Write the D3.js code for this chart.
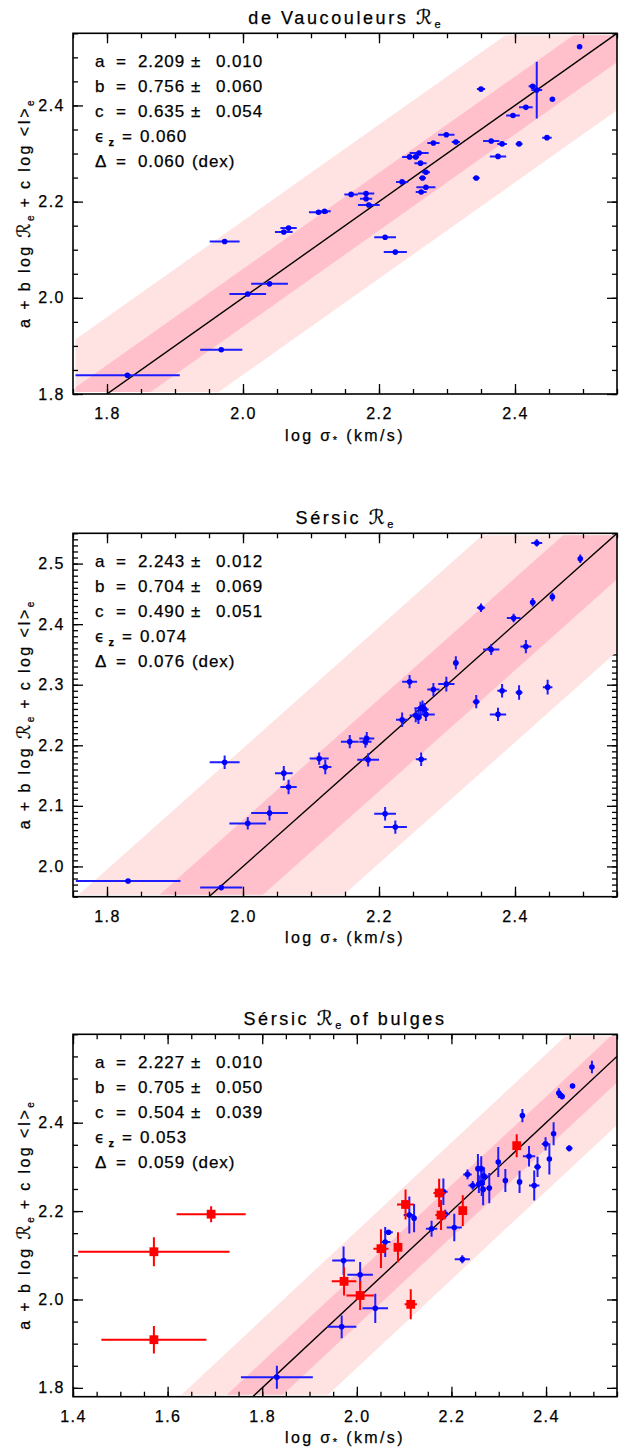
<!DOCTYPE html>
<html>
<head>
<meta charset="utf-8">
<script src="https://cdn.jsdelivr.net/npm/d3@7"></script>
<style>
  body { margin: 0; background: #fff; }
  svg { display: block; }
  text { font-family: "Liberation Sans", Arial, "DejaVu Sans", sans-serif; fill: #000; stroke: #000; stroke-width: 0.25; }
</style>
</head>
<body>
<svg id="fig" width="626" height="1449"></svg>
<script>
// ---------- de Vaucouleurs Re ----------
const dvSigma    = [1.830, 1.968, 1.973, 2.007, 2.039, 2.060, 2.067, 2.111, 2.120, 2.159, 2.181, 2.181, 2.185, 2.209, 2.224, 2.234, 2.245, 2.254, 2.259, 2.261, 2.262, 2.264, 2.269, 2.269, 2.280, 2.299, 2.313, 2.343, 2.350, 2.365, 2.375, 2.381, 2.397, 2.406, 2.416, 2.426, 2.432, 2.447, 2.455, 2.495];
const dvY        = [1.839, 1.892, 2.117, 2.008, 2.029, 2.137, 2.145, 2.178, 2.180, 2.215, 2.217, 2.206, 2.193, 2.126, 2.095, 2.241, 2.293, 2.293, 2.301, 2.280, 2.220, 2.249, 2.261, 2.230, 2.322, 2.339, 2.324, 2.249, 2.434, 2.326, 2.294, 2.320, 2.379, 2.320, 2.396, 2.440, 2.432, 2.333, 2.413, 2.522];
const dvSigmaErr = [0.077, 0.031, 0.022, 0.027, 0.027, 0.013, 0.012, 0.014, 0.009, 0.010, 0.012, 0.009, 0.016, 0.016, 0.017, 0.009, 0.011, 0.005, 0.014, 0.009, 0.008, 0.005, 0.006, 0.014, 0.009, 0.012, 0.006, 0.005, 0.006, 0.012, 0.012, 0.007, 0.010, 0.005, 0.010, 0.006, 0.008, 0.007, 0.003, 0.003];
const dvYErr     = [0.004, 0.004, 0.004, 0.004, 0.004, 0.004, 0.004, 0.004, 0.004, 0.004, 0.004, 0.004, 0.004, 0.004, 0.004, 0.004, 0.004, 0.004, 0.004, 0.004, 0.004, 0.004, 0.004, 0.004, 0.004, 0.004, 0.004, 0.004, 0.004, 0.004, 0.004, 0.004, 0.004, 0.004, 0.004, 0.004, 0.059, 0.004, 0.004, 0.004];

// ---------- Sersic Re ----------
const srSigma    = [1.831, 1.968, 1.973, 2.007, 2.039, 2.060, 2.067, 2.112, 2.121, 2.157, 2.180, 2.182, 2.184, 2.209, 2.224, 2.234, 2.245, 2.254, 2.258, 2.261, 2.262, 2.264, 2.267, 2.269, 2.280, 2.299, 2.313, 2.343, 2.350, 2.365, 2.375, 2.381, 2.398, 2.406, 2.416, 2.426, 2.432, 2.448, 2.455, 2.496];
const srY        = [1.976, 1.965, 2.172, 2.071, 2.088, 2.154, 2.131, 2.178, 2.164, 2.206, 2.206, 2.211, 2.176, 2.087, 2.065, 2.242, 2.305, 2.249, 2.246, 2.261, 2.177, 2.263, 2.259, 2.251, 2.292, 2.301, 2.336, 2.272, 2.427, 2.358, 2.251, 2.290, 2.410, 2.287, 2.363, 2.436, 2.534, 2.296, 2.445, 2.508];
const srSigmaErr = [0.077, 0.031, 0.022, 0.027, 0.027, 0.013, 0.012, 0.014, 0.009, 0.013, 0.009, 0.011, 0.016, 0.016, 0.017, 0.009, 0.011, 0.009, 0.005, 0.009, 0.008, 0.005, 0.006, 0.013, 0.009, 0.012, 0.004, 0.005, 0.006, 0.012, 0.012, 0.007, 0.010, 0.005, 0.008, 0.004, 0.008, 0.007, 0.003, 0.003];
const srYErr     = [0.003, 0.003, 0.011, 0.010, 0.012, 0.012, 0.012, 0.010, 0.012, 0.011, 0.010, 0.011, 0.011, 0.011, 0.011, 0.012, 0.011, 0.011, 0.011, 0.011, 0.011, 0.011, 0.011, 0.011, 0.011, 0.012, 0.011, 0.011, 0.007, 0.009, 0.011, 0.011, 0.007, 0.012, 0.011, 0.007, 0.006, 0.012, 0.007, 0.007];

// ---------- Sersic Re of bulges: galaxies (blue) ----------
const bgSigma    = [1.831, 1.968, 1.972, 2.007, 2.039, 2.060, 2.067, 2.111, 2.121, 2.158, 2.183, 2.187, 2.206, 2.223, 2.234, 2.245, 2.256, 2.258, 2.263, 2.264, 2.267, 2.269, 2.280, 2.299, 2.314, 2.344, 2.350, 2.364, 2.375, 2.382, 2.399, 2.407, 2.416, 2.427, 2.431, 2.434, 2.449, 2.456, 2.497];
const bgY        = [1.824, 1.938, 2.088, 2.056, 1.980, 2.130, 2.152, 2.191, 2.184, 2.160, 2.244, 2.193, 2.163, 2.091, 2.283, 2.258, 2.296, 2.261, 2.296, 2.264, 2.249, 2.279, 2.252, 2.311, 2.269, 2.266, 2.416, 2.324, 2.258, 2.300, 2.352, 2.318, 2.375, 2.467, 2.462, 2.459, 2.342, 2.483, 2.526];
const bgSigmaErr = [0.076, 0.031, 0.024, 0.027, 0.027, 0.011, 0.009, 0.012, 0.004, 0.012, 0.009, 0.009, 0.016, 0.016, 0.009, 0.009, 0.004, 0.006, 0.005, 0.005, 0.005, 0.008, 0.006, 0.004, 0.004, 0.003, 0.005, 0.013, 0.011, 0.007, 0.008, 0.004, 0.004, 0.003, 0.003, 0.003, 0.007, 0.003, 0.002];
const bgYErr     = [0.026, 0.026, 0.032, 0.029, 0.033, 0.034, 0.005, 0.042, 0.032, 0.018, 0.030, 0.010, 0.031, 0.009, 0.011, 0.010, 0.033, 0.020, 0.028, 0.030, 0.036, 0.020, 0.034, 0.034, 0.026, 0.025, 0.015, 0.023, 0.034, 0.023, 0.015, 0.035, 0.026, 0.011, 0.006, 0.005, 0.007, 0.005, 0.014];

// ---------- Sersic Re of bulges: bulges (red squares) ----------
const buSigma    = [1.571, 1.571, 1.692, 1.973, 2.007, 2.051, 2.087, 2.103, 2.114, 2.174, 2.178, 2.224, 2.338];
const buY        = [2.108, 1.909, 2.193, 2.041, 2.009, 2.115, 2.118, 2.215, 1.989, 2.241, 2.191, 2.201, 2.348];
const buSigmaErr = [0.160, 0.111, 0.073, 0.026, 0.029, 0.016, 0.004, 0.018, 0.013, 0.012, 0.012, 0.005, 0.004];
const buYErr     = [0.033, 0.031, 0.018, 0.032, 0.033, 0.044, 0.034, 0.034, 0.034, 0.032, 0.034, 0.035, 0.026];

// ---------- fit results (one entry per panel) ----------
const panelTitles = ["de Vaucouleurs", "Sérsic", "Sérsic"];
const titleSuffix = ["", "", " of bulges"];
const fitA    = [2.209, 2.243, 2.227];
const fitAErr = [0.010, 0.012, 0.010];
const fitB    = [0.756, 0.704, 0.705];
const fitBErr = [0.060, 0.069, 0.050];
const fitC    = [0.635, 0.490, 0.504];
const fitCErr = [0.054, 0.051, 0.039];
const epsZ    = [0.060, 0.074, 0.053];
const scatter = [0.060, 0.076, 0.059];
const bandInner = [0.060, 0.076, 0.059];
const bandOuter = [0.160, 0.195, 0.155];

// ---------- axes ----------
const xRanges = [[1.75, 2.55], [1.75, 2.55], [1.40, 2.55]];
const yRanges = [[1.80, 2.55], [1.95, 2.55], [1.78, 2.60]];
const xTickValues = [[1.8, 2.0, 2.2, 2.4], [1.8, 2.0, 2.2, 2.4], [1.4, 1.6, 1.8, 2.0, 2.2, 2.4]];
const xTickLabels = [["1.8", "2.0", "2.2", "2.4"], ["1.8", "2.0", "2.2", "2.4"], ["1.4", "1.6", "1.8", "2.0", "2.2", "2.4"]];
const yTickValues = [[1.8, 2.0, 2.2, 2.4], [2.0, 2.1, 2.2, 2.3, 2.4, 2.5], [1.8, 2.0, 2.2, 2.4]];
const yTickLabels = [["1.8", "2.0", "2.2", "2.4"], ["2.0", "2.1", "2.2", "2.3", "2.4", "2.5"], ["1.8", "2.0", "2.2", "2.4"]];
const xMinorStep = [0.05, 0.05, 0.05];
const yMinorStep = [0.05, 0.01, 0.05];

// ---------- layout ----------
const svg = d3.select("#fig");
const plotLeft = 73, plotRight = 617;
const frames = [{ top: 33.3, bottom: 394 }, { top: 533.3, bottom: 896.7 }, { top: 1034.3, bottom: 1396.7 }];
const BLUE = "#0000ff", BLUE_BAR = "#1c1cff", RED = "#ff0000";
const FONT = '"Liberation Sans", Arial, "DejaVu Sans", sans-serif';
const SCRIPT_FONT = '"DejaVu Serif", "DejaVu Sans", serif';

const pointSets = [
  [{ sx: dvSigma, sy: dvY, ex: dvSigmaErr, ey: dvYErr, kind: "dot" }],
  [{ sx: srSigma, sy: srY, ex: srSigmaErr, ey: srYErr, kind: "dot" }],
  [{ sx: bgSigma, sy: bgY, ex: bgSigmaErr, ey: bgYErr, kind: "dot" },
   { sx: buSigma, sy: buY, ex: buSigmaErr, ey: buYErr, kind: "square" }]
];

function minorTicks(domain, step) {
  const start = Math.ceil(domain[0] / step - 1e-6) * step;
  const out = [];
  for (let v = start; v <= domain[1] + 1e-9; v += step) out.push(+v.toFixed(4));
  return out;
}

function styleAxis(sel) {
  sel.select(".domain").remove();
  sel.selectAll(".tick line").attr("stroke", "#000").attr("stroke-width", 1.3);
  sel.attr("font-family", FONT);
}

frames.forEach((f, i) => {
  const x = d3.scaleLinear().domain(xRanges[i]).range([plotLeft, plotRight]);
  const y = d3.scaleLinear().domain(yRanges[i]).range([f.bottom, f.top]);
  const g = svg.append("g");

  const clipInset = "clipInset" + i, clipFull = "clipFull" + i;
  const defs = g.append("defs");
  defs.append("clipPath").attr("id", clipInset).append("rect")
    .attr("x", plotLeft + 2.5).attr("y", f.top + 2)
    .attr("width", plotRight - plotLeft - 2.5).attr("height", f.bottom - f.top - 4);
  defs.append("clipPath").attr("id", clipFull).append("rect")
    .attr("x", plotLeft).attr("y", f.top)
    .attr("width", plotRight - plotLeft).attr("height", f.bottom - f.top);

  const xMinor = minorTicks(xRanges[i], xMinorStep[i]);
  const yMinor = minorTicks(yRanges[i], yMinorStep[i]);

  // right-hand ticks sit under the scatter bands
  g.append("g").attr("transform", `translate(${plotRight},0)`)
    .call(d3.axisRight(y).tickValues(yTickValues[i]).tickSize(-10).tickSizeOuter(0).tickFormat(""))
    .call(styleAxis);
  g.append("g").attr("transform", `translate(${plotRight},0)`)
    .call(d3.axisRight(y).tickValues(yMinor).tickSize(-5).tickSizeOuter(0).tickFormat(""))
    .call(styleAxis);

  // scatter bands around the one-to-one relation
  const x0 = xRanges[i][0] - 0.5, x1 = xRanges[i][1] + 0.5;
  const bandPoly = w => [[x(x0), y(x0 + w)], [x(x1), y(x1 + w)], [x(x1), y(x1 - w)], [x(x0), y(x0 - w)]];
  const bands = g.append("g").attr("clip-path", `url(#${clipInset})`);
  bands.append("polygon").attr("points", bandPoly(bandOuter[i]).join(" ")).attr("fill", "#ffe2e2");
  bands.append("polygon").attr("points", bandPoly(bandInner[i]).join(" ")).attr("fill", "#ffc0cb");

  // one-to-one line
  g.append("line").attr("clip-path", `url(#${clipFull})`)
    .attr("x1", x(x0)).attr("y1", y(x0)).attr("x2", x(x1)).attr("y2", y(x1))
    .attr("stroke", "#000").attr("stroke-width", 1.4);

  // measurements with error bars
  const marks = g.append("g").attr("clip-path", `url(#${clipInset})`);
  pointSets[i].forEach(set => {
    const data = set.sx.map((v, k) => ({ s: v, v: set.sy[k], es: set.ex[k], ev: set.ey[k] }));
    const col = set.kind === "square" ? RED : BLUE;
    const barCol = set.kind === "square" ? RED : BLUE_BAR;
    const grp = marks.append("g");
    grp.selectAll("line.h").data(data).join("line")
      .attr("x1", d => x(d.s - d.es)).attr("x2", d => x(d.s + d.es))
      .attr("y1", d => y(d.v)).attr("y2", d => y(d.v))
      .attr("stroke", barCol).attr("stroke-width", 2);
    grp.selectAll("line.v").data(data).join("line")
      .attr("x1", d => x(d.s)).attr("x2", d => x(d.s))
      .attr("y1", d => y(d.v - d.ev)).attr("y2", d => y(d.v + d.ev))
      .attr("stroke", barCol).attr("stroke-width", 2);
    if (set.kind === "square") {
      grp.selectAll("rect").data(data).join("rect")
        .attr("x", d => x(d.s) - 4.4).attr("y", d => y(d.v) - 4.4)
        .attr("width", 8.8).attr("height", 8.8).attr("fill", col);
    } else {
      grp.selectAll("circle").data(data).join("circle")
        .attr("cx", d => x(d.s)).attr("cy", d => y(d.v)).attr("r", 2.8).attr("fill", col);
    }
  });

  // remaining axes
  const bottomAx = g.append("g").attr("transform", `translate(0,${f.bottom})`)
    .call(d3.axisBottom(x).tickValues(xTickValues[i]).tickSize(-10).tickSizeOuter(0).tickPadding(14)
      .tickFormat((d, k) => xTickLabels[i][k]))
    .call(styleAxis);
  bottomAx.selectAll("text").attr("font-size", 16).attr("letter-spacing", 1.5).attr("fill", "#000");
  g.append("g").attr("transform", `translate(0,${f.bottom})`)
    .call(d3.axisBottom(x).tickValues(xMinor).tickSize(-5).tickSizeOuter(0).tickFormat(""))
    .call(styleAxis);
  g.append("g").attr("transform", `translate(0,${f.top})`)
    .call(d3.axisTop(x).tickValues(xTickValues[i]).tickSize(-10).tickSizeOuter(0).tickFormat(""))
    .call(styleAxis);
  g.append("g").attr("transform", `translate(0,${f.top})`)
    .call(d3.axisTop(x).tickValues(xMinor).tickSize(-5).tickSizeOuter(0).tickFormat(""))
    .call(styleAxis);
  const leftAx = g.append("g").attr("transform", `translate(${plotLeft},0)`)
    .call(d3.axisLeft(y).tickValues(yTickValues[i]).tickSize(-10).tickSizeOuter(0).tickPadding(8)
      .tickFormat((d, k) => yTickLabels[i][k]))
    .call(styleAxis);
  leftAx.selectAll("text").attr("font-size", 16).attr("letter-spacing", 1.5).attr("fill", "#000");
  g.append("g").attr("transform", `translate(${plotLeft},0)`)
    .call(d3.axisLeft(y).tickValues(yMinor).tickSize(-5).tickSizeOuter(0).tickFormat(""))
    .call(styleAxis);

  // frame
  g.append("rect").attr("x", plotLeft).attr("y", f.top)
    .attr("width", plotRight - plotLeft).attr("height", f.bottom - f.top)
    .attr("fill", "none").attr("stroke", "#000").attr("stroke-width", 1.6);

  // title
  const cx = (plotLeft + plotRight) / 2;
  const title = g.append("text").attr("x", cx).attr("y", f.top - 9)
    .attr("text-anchor", "middle").attr("font-size", 18).attr("letter-spacing", 2.6);
  title.append("tspan").text(panelTitles[i] + " ");
  title.append("tspan").attr("font-family", SCRIPT_FONT).attr("font-style", "italic").attr("font-size", 20).text("ℛ");
  title.append("tspan").attr("font-size", 11).attr("dy", 4).attr("letter-spacing", 1).text("e");
  if (titleSuffix[i]) title.append("tspan").attr("dy", -4).text(titleSuffix[i]);

  // x-axis title
  const xt = g.append("text").attr("x", cx).attr("y", f.bottom + 46.5)
    .attr("text-anchor", "middle").attr("font-size", 16).attr("letter-spacing", 2.4);
  xt.append("tspan").text("log σ");
  xt.append("tspan").attr("font-size", 11).attr("dy", 3).text("*");
  xt.append("tspan").attr("dy", -3).text(" (km/s)");

  // y-axis title
  const yt = g.append("text")
    .attr("transform", `translate(30,${(f.top + f.bottom) / 2}) rotate(-90)`)
    .attr("text-anchor", "middle").attr("font-size", 16).attr("letter-spacing", 2.4);
  yt.append("tspan").text("a + b log ");
  yt.append("tspan").attr("font-family", SCRIPT_FONT).attr("font-style", "italic").attr("font-size", 18).text("ℛ");
  yt.append("tspan").attr("font-size", 10).attr("dy", 4).attr("letter-spacing", 1).text("e");
  yt.append("tspan").attr("dy", -4).text(" + c log <I>");
  yt.append("tspan").attr("font-size", 10).attr("dy", 4).attr("letter-spacing", 1).text("e");

  // fit parameters
  const stats = g.append("g").attr("font-size", 17).attr("font-family", FONT).attr("letter-spacing", 0.9);
  const rows = [["a", fitA[i], fitAErr[i]], ["b", fitB[i], fitBErr[i]], ["c", fitC[i], fitCErr[i]]];
  rows.forEach((r, k) => {
    const t = stats.append("text").attr("y", f.top + 33.5 + k * 25);
    t.append("tspan").attr("x", 95).text(r[0]);
    t.append("tspan").attr("x", 116).text("=");
    t.append("tspan").attr("x", 138).text(r[1].toFixed(3));
    t.append("tspan").attr("x", 191).text("±");
    t.append("tspan").attr("x", 216).text(r[2].toFixed(3));
  });
  const te = stats.append("text").attr("y", f.top + 33.5 + 3 * 25);
  te.append("tspan").attr("x", 95).attr("font-family", '"DejaVu Sans", sans-serif').attr("font-size", 15).text("ϵ");
  te.append("tspan").attr("x", 108.5).attr("dy", 4).attr("font-size", 11).attr("font-weight", "bold").text("z");
  te.append("tspan").attr("x", 122).attr("dy", -4).text("=");
  te.append("tspan").attr("x", 140).text(epsZ[i].toFixed(3));
  const td = stats.append("text").attr("y", f.top + 33.5 + 4 * 25);
  td.append("tspan").attr("x", 95).text("Δ");
  td.append("tspan").attr("x", 116).text("=");
  td.append("tspan").attr("x", 138).text(scatter[i].toFixed(3));
  td.append("tspan").attr("x", 192).text("(dex)");
});
</script>
</body>
</html>
